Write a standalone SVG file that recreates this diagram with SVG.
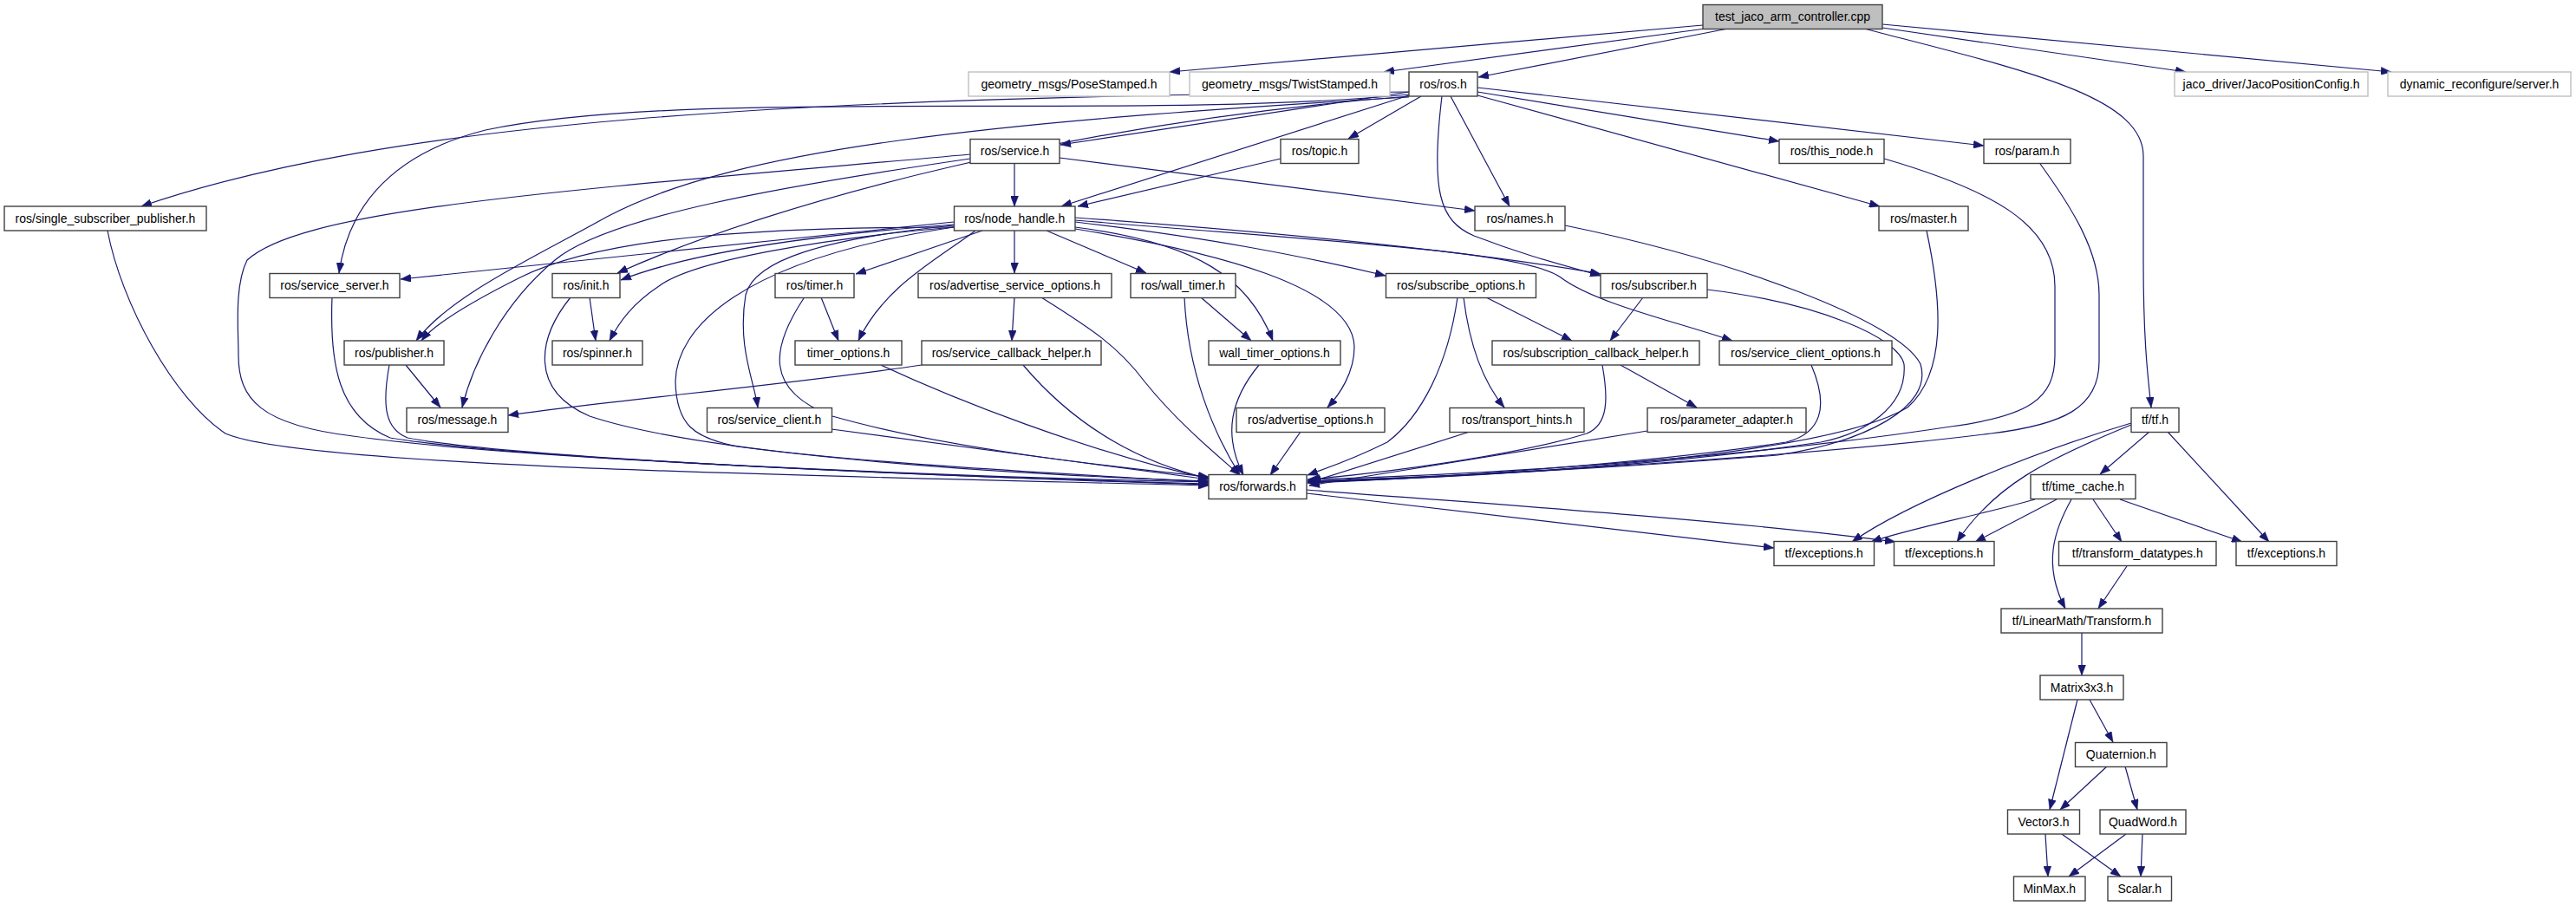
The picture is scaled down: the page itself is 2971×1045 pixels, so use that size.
<svg xmlns="http://www.w3.org/2000/svg" width="2971" height="1045" viewBox="0 0 2971 1045">
<style>
.n rect{fill:#ffffff;stroke:#404040;stroke-width:1.4}
.n.g rect{stroke:#bfbfbf}
.n.root rect{fill:#bfbfbf}
.n text{font-family:"Liberation Sans",Arial,sans-serif;font-size:14px;fill:#000;text-anchor:middle}
.e path{fill:none;stroke:#191970;stroke-width:1.2;marker-end:url(#ah)}
</style>
<defs>
<marker id="ah" markerUnits="userSpaceOnUse" markerWidth="12" markerHeight="9" refX="12" refY="4.5" orient="auto">
<path d="M0,0 L12,4.5 L0,9 z" fill="#191970" stroke="#191970" stroke-width="0.5"/>
</marker>
</defs>
<rect width="2971" height="1045" fill="#ffffff"/>
<g id="connectors" class="e">
<path d="M1964,29 L1349,83"/>
<path d="M1967,33 L1596,83"/>
<path d="M1993,33 L1705,89"/>
<path d="M2171,32 L2521,83"/>
<path d="M2171,28 L2758,83"/>
<path d="M2150,33 C2330,80 2472,110 2472,180 L2472,300 C2472,400 2478,440 2481,470"/>
<path d="M1625,106 C900,112 450,140 163,238"/>
<path d="M1625,109 C1300,140 800,100 560,150 C440,180 400,250 391,315"/>
<path d="M1625,106 L1223,167"/>
<path d="M1625,110 L1224,238"/>
<path d="M1639,111 L1555,160"/>
<path d="M1673,111 L1741,238"/>
<path d="M1663,111 C1650,220 1660,255 1700,272 C1760,295 1800,305 1846,318"/>
<path d="M1704,106 L2052,163"/>
<path d="M1704,110 L2168,238"/>
<path d="M1704,101 L2288,168"/>
<path d="M1625,111 C1250,140 900,230 712,315"/>
<path d="M1625,112 C1150,140 850,170 700,250 C620,295 520,340 480,393"/>
<path d="M1100,256 L462,322"/>
<path d="M1100,259 C950,270 800,290 716,323"/>
<path d="M1100,262 C950,275 800,300 760,330 C730,350 715,370 703,393"/>
<path d="M1100,262 C900,262 700,270 600,320 C540,350 500,375 486,393"/>
<path d="M1133,266 L987,316"/>
<path d="M1125,266 C1080,300 1020,330 990,393"/>
<path d="M1170,266 L1170,315"/>
<path d="M1207,266 L1322,315"/>
<path d="M1240,262 C1380,280 1440,320 1468,393"/>
<path d="M1100,260 C950,275 870,300 860,340 C850,400 870,440 874,470"/>
<path d="M1100,262 C850,300 780,380 779,440 C780,490 800,505 850,515 C1000,535 1250,548 1394,556"/>
<path d="M1240,264 C1400,290 1560,330 1562,400 C1562,430 1545,455 1531,470"/>
<path d="M1240,256 C1400,275 1500,295 1598,318"/>
<path d="M1240,251 C1500,270 1700,290 1846,316"/>
<path d="M1240,254 C1550,280 1760,290 1800,320 C1840,350 1930,370 1998,393"/>
<path d="M1170,189 L1170,238"/>
<path d="M1222,182 L1701,243"/>
<path d="M1119,183 C900,215 700,250 640,300 C580,350 545,420 533,470"/>
<path d="M1119,178 C650,220 350,240 285,300 C270,330 275,380 275,410 C275,460 300,490 407,503 C600,530 1100,550 1394,556"/>
<path d="M1477,183 L1243,238"/>
<path d="M1805,260 C2000,300 2190,370 2215,420 C2230,470 2150,510 2050,525 C1800,545 1600,552 1508,555"/>
<path d="M2222,266 C2240,350 2245,430 2200,470 C2100,530 1700,550 1508,556"/>
<path d="M2173,183 C2300,220 2370,260 2370,330 L2370,410 C2370,460 2340,480 2250,492 C2000,530 1700,548 1508,553"/>
<path d="M2353,189 C2390,240 2421,290 2421,340 L2421,417 C2421,470 2380,490 2296,500 C2100,525 1700,550 1508,555"/>
<path d="M1969,334 C2100,350 2190,390 2196,420 C2200,470 2150,500 2100,510 C1900,540 1650,552 1508,556"/>
<path d="M2089,421 C2110,470 2100,500 2060,510 C1900,535 1650,552 1508,557"/>
<path d="M1900,497 L1510,560"/>
<path d="M1695,498 L1512,556"/>
<path d="M1848,421 C1855,460 1855,490 1830,500 C1750,525 1600,545 1510,553"/>
<path d="M1681,343 C1670,420 1640,480 1600,510 C1560,530 1530,540 1508,548"/>
<path d="M1688,343 C1695,400 1710,440 1735,470"/>
<path d="M1714,343 L1813,393"/>
<path d="M1895,343 L1857,393"/>
<path d="M1869,421 L1957,470"/>
<path d="M947,343 L967,393"/>
<path d="M927,344 C890,400 880,450 960,480 C1100,520 1300,540 1394,550"/>
<path d="M1016,421 C1100,460 1250,520 1394,552"/>
<path d="M1170,343 L1167,393"/>
<path d="M1201,343 C1260,380 1290,400 1320,440 C1360,490 1410,530 1430,548"/>
<path d="M1385,343 L1443,393"/>
<path d="M1366,343 C1370,430 1400,500 1430,548"/>
<path d="M1452,421 C1420,460 1410,500 1434,548"/>
<path d="M1500,498 L1465,548"/>
<path d="M1063,421 C900,445 700,462 586,479"/>
<path d="M1180,421 C1230,480 1300,530 1394,552"/>
<path d="M959,495 L1394,553"/>
<path d="M383,343 C380,420 390,480 450,505 C600,530 1100,550 1394,558"/>
<path d="M468,421 L508,470"/>
<path d="M449,421 C440,470 445,495 470,505 C600,530 1100,550 1394,559"/>
<path d="M680,343 L687,393"/>
<path d="M658,343 C620,390 610,450 680,480 C800,520 1100,545 1394,555"/>
<path d="M124,266 C140,350 200,460 260,500 C350,540 1000,550 1394,560"/>
<path d="M1507,569 L2046,632"/>
<path d="M1507,565 C1700,580 2000,600 2186,625"/>
<path d="M2479,498 L2422,547"/>
<path d="M2500,498 L2617,625"/>
<path d="M2458,488 C2350,520 2200,580 2136,625"/>
<path d="M2458,490 C2360,530 2300,560 2257,625"/>
<path d="M2347,576 C2280,595 2200,610 2158,625"/>
<path d="M2372,576 L2278,625"/>
<path d="M2389,576 C2370,610 2355,650 2382,702"/>
<path d="M2414,576 L2447,625"/>
<path d="M2445,576 L2586,625"/>
<path d="M2453,653 L2420,702"/>
<path d="M2401,730 L2401,779"/>
<path d="M2396,807 L2364,934"/>
<path d="M2410,807 L2437,856"/>
<path d="M2430,884 L2376,934"/>
<path d="M2451,884 L2465,934"/>
<path d="M2359,962 L2362,1011"/>
<path d="M2378,962 L2446,1011"/>
<path d="M2452,962 L2386,1011"/>
<path d="M2471,962 L2469,1011"/>
</g>
<g id="n_test" class="n root"><rect x="1964" y="5.5" width="207" height="28"/><text x="2067.5" y="24">test_jaco_arm_controller.cpp</text></g>
<g id="n_posestamped" class="n g"><rect x="1117" y="83" width="232" height="28"/><text x="1233" y="101.5">geometry_msgs/PoseStamped.h</text></g>
<g id="n_twiststamped" class="n g"><rect x="1372" y="83" width="231" height="28"/><text x="1487.5" y="101.5">geometry_msgs/TwistStamped.h</text></g>
<g id="n_ros" class="n"><rect x="1625" y="83" width="79" height="28"/><text x="1664.5" y="101.5">ros/ros.h</text></g>
<g id="n_jacoconfig" class="n g"><rect x="2508" y="83" width="223" height="28"/><text x="2619.5" y="101.5">jaco_driver/JacoPositionConfig.h</text></g>
<g id="n_dynreconf" class="n g"><rect x="2754" y="83" width="211" height="28"/><text x="2859.5" y="101.5">dynamic_reconfigure/server.h</text></g>
<g id="n_ssp" class="n"><rect x="5" y="238" width="233" height="28"/><text x="121.5" y="256.5">ros/single_subscriber_publisher.h</text></g>
<g id="n_service" class="n"><rect x="1119" y="160.5" width="103" height="28"/><text x="1170.5" y="179">ros/service.h</text></g>
<g id="n_topic" class="n"><rect x="1477" y="160.5" width="90" height="28"/><text x="1522" y="179">ros/topic.h</text></g>
<g id="n_thisnode" class="n"><rect x="2052" y="160.5" width="121" height="28"/><text x="2112.5" y="179">ros/this_node.h</text></g>
<g id="n_param" class="n"><rect x="2288" y="160.5" width="100" height="28"/><text x="2338" y="179">ros/param.h</text></g>
<g id="n_nodehandle" class="n"><rect x="1100.5" y="238" width="139.5" height="28"/><text x="1170.25" y="256.5">ros/node_handle.h</text></g>
<g id="n_names" class="n"><rect x="1701" y="238" width="104" height="28"/><text x="1753" y="256.5">ros/names.h</text></g>
<g id="n_master" class="n"><rect x="2167" y="238" width="103" height="28"/><text x="2218.5" y="256.5">ros/master.h</text></g>
<g id="n_serviceserver" class="n"><rect x="311" y="315.5" width="150" height="28"/><text x="386" y="334">ros/service_server.h</text></g>
<g id="n_init" class="n"><rect x="637" y="315.5" width="78" height="28"/><text x="676" y="334">ros/init.h</text></g>
<g id="n_timer" class="n"><rect x="894" y="315.5" width="91" height="28"/><text x="939.5" y="334">ros/timer.h</text></g>
<g id="n_aso" class="n"><rect x="1059" y="315.5" width="223" height="28"/><text x="1170.5" y="334">ros/advertise_service_options.h</text></g>
<g id="n_walltimer" class="n"><rect x="1304" y="315.5" width="121" height="28"/><text x="1364.5" y="334">ros/wall_timer.h</text></g>
<g id="n_subopts" class="n"><rect x="1598.5" y="315.5" width="173" height="28"/><text x="1685" y="334">ros/subscribe_options.h</text></g>
<g id="n_subscriber" class="n"><rect x="1846" y="315.5" width="123" height="28"/><text x="1907.5" y="334">ros/subscriber.h</text></g>
<g id="n_publisher" class="n"><rect x="397" y="393" width="115" height="28"/><text x="454.5" y="411.5">ros/publisher.h</text></g>
<g id="n_spinner" class="n"><rect x="637" y="393" width="104" height="28"/><text x="689" y="411.5">ros/spinner.h</text></g>
<g id="n_timeropts" class="n"><rect x="917" y="393" width="123" height="28"/><text x="978.5" y="411.5">timer_options.h</text></g>
<g id="n_sch" class="n"><rect x="1063" y="393" width="207" height="28"/><text x="1166.5" y="411.5">ros/service_callback_helper.h</text></g>
<g id="n_wtopts" class="n"><rect x="1394" y="393" width="152" height="28"/><text x="1470" y="411.5">wall_timer_options.h</text></g>
<g id="n_subch" class="n"><rect x="1721" y="393" width="239" height="28"/><text x="1840.5" y="411.5">ros/subscription_callback_helper.h</text></g>
<g id="n_sco" class="n"><rect x="1983" y="393" width="199" height="28"/><text x="2082.5" y="411.5">ros/service_client_options.h</text></g>
<g id="n_message" class="n"><rect x="469" y="470.5" width="117" height="28"/><text x="527.5" y="489">ros/message.h</text></g>
<g id="n_serviceclient" class="n"><rect x="815.5" y="470.5" width="144" height="28"/><text x="887.5" y="489">ros/service_client.h</text></g>
<g id="n_advopts" class="n"><rect x="1426" y="470.5" width="171" height="28"/><text x="1511.5" y="489">ros/advertise_options.h</text></g>
<g id="n_transporthints" class="n"><rect x="1672" y="470.5" width="155" height="28"/><text x="1749.5" y="489">ros/transport_hints.h</text></g>
<g id="n_paramadapter" class="n"><rect x="1900" y="470.5" width="183" height="28"/><text x="1991.5" y="489">ros/parameter_adapter.h</text></g>
<g id="n_tf" class="n"><rect x="2458" y="470.5" width="55" height="28"/><text x="2485.5" y="489">tf/tf.h</text></g>
<g id="n_forwards" class="n"><rect x="1394" y="547.5" width="113" height="28"/><text x="1450.5" y="566">ros/forwards.h</text></g>
<g id="n_timecache" class="n"><rect x="2342" y="547.5" width="121" height="28"/><text x="2402.5" y="566">tf/time_cache.h</text></g>
<g id="n_exc1" class="n"><rect x="2046" y="624.5" width="115.5" height="28"/><text x="2103.75" y="643">tf/exceptions.h</text></g>
<g id="n_exc2" class="n"><rect x="2184.5" y="624.5" width="115.5" height="28"/><text x="2242.25" y="643">tf/exceptions.h</text></g>
<g id="n_tdt" class="n"><rect x="2374.5" y="624.5" width="181.5" height="28"/><text x="2465.25" y="643">tf/transform_datatypes.h</text></g>
<g id="n_exc3" class="n"><rect x="2579" y="624.5" width="116" height="28"/><text x="2637" y="643">tf/exceptions.h</text></g>
<g id="n_transform" class="n"><rect x="2308" y="702" width="186" height="28"/><text x="2401" y="720.5">tf/LinearMath/Transform.h</text></g>
<g id="n_matrix" class="n"><rect x="2353" y="779" width="96" height="28"/><text x="2401" y="797.5">Matrix3x3.h</text></g>
<g id="n_quat" class="n"><rect x="2393.5" y="856.5" width="105.5" height="28"/><text x="2446.25" y="875">Quaternion.h</text></g>
<g id="n_vector3" class="n"><rect x="2315.5" y="934" width="83" height="28"/><text x="2357" y="952.5">Vector3.h</text></g>
<g id="n_quadword" class="n"><rect x="2422" y="934" width="99" height="28"/><text x="2471.5" y="952.5">QuadWord.h</text></g>
<g id="n_minmax" class="n"><rect x="2322.5" y="1011" width="82.5" height="28"/><text x="2363.75" y="1029.5">MinMax.h</text></g>
<g id="n_scalar" class="n"><rect x="2431" y="1011" width="73.5" height="28"/><text x="2467.75" y="1029.5">Scalar.h</text></g>
</svg>
